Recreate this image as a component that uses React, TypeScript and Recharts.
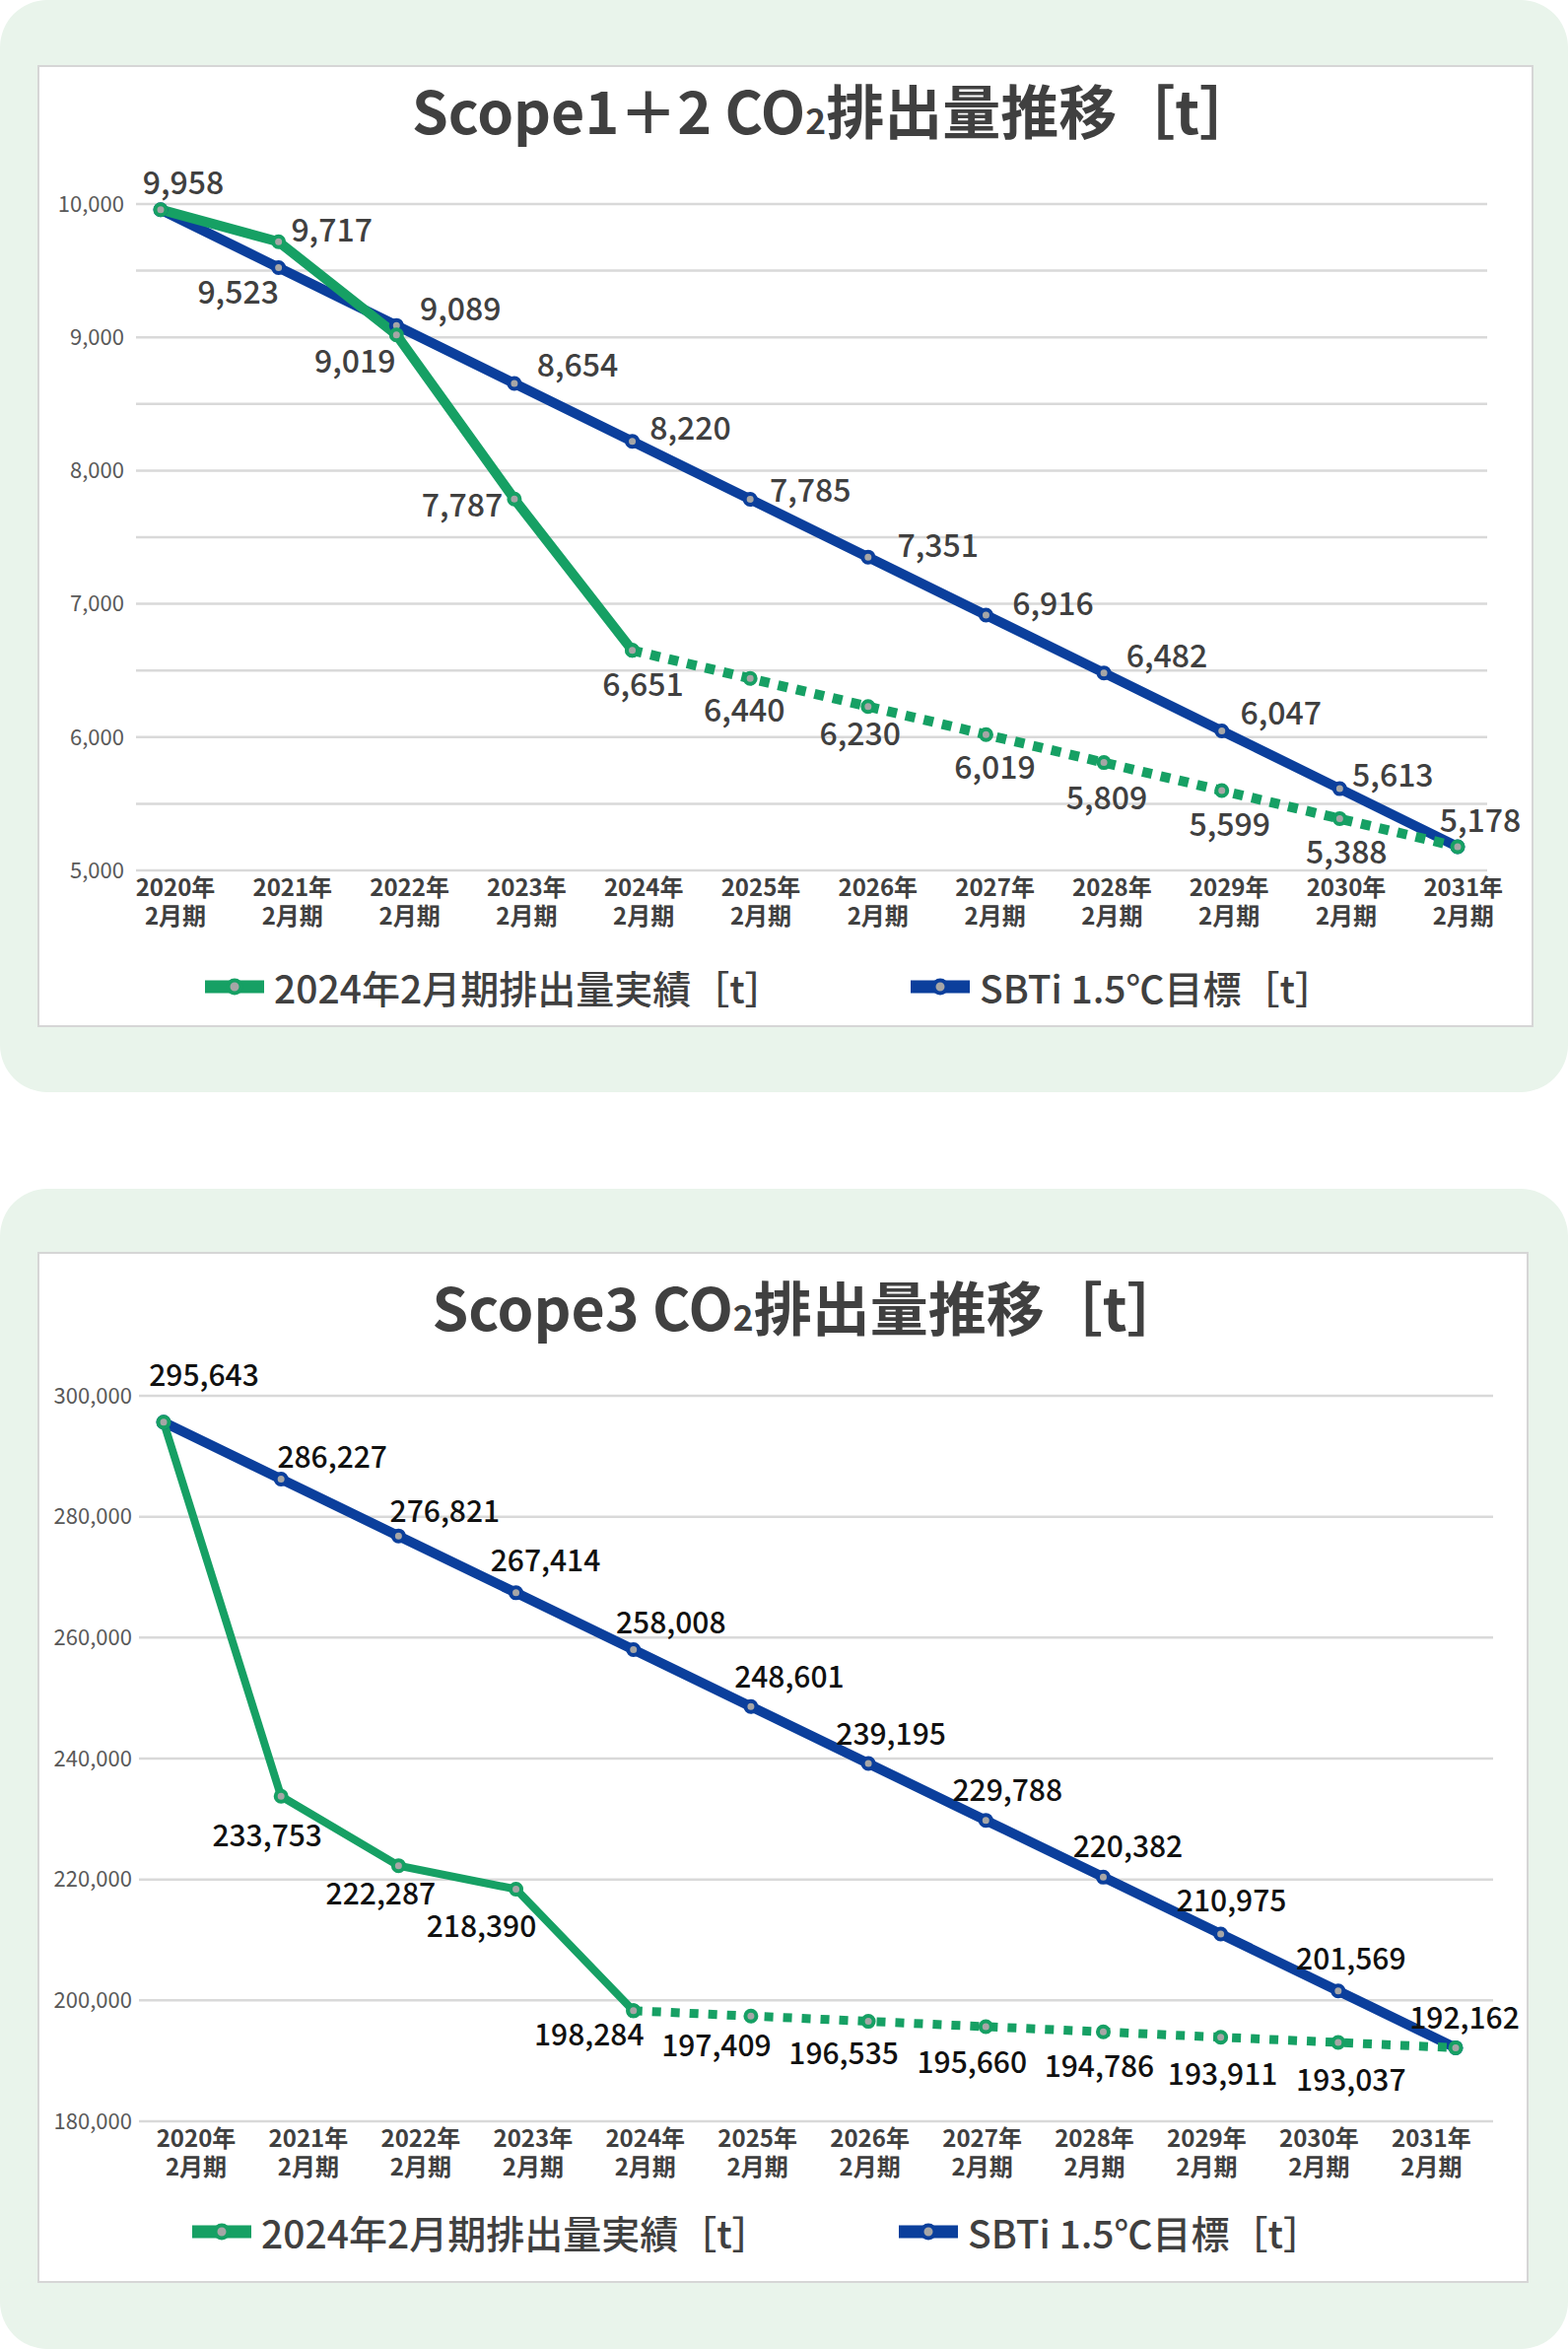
import React from 'react'
import { LineChart, Line, XAxis, YAxis, CartesianGrid, LabelList } from 'recharts'

const FONT = "'Noto Sans CJK JP', 'Noto Sans', sans-serif"
const GREEN = '#16a064'
const BLUE = '#0b3f9c'
const MARKER_FILL = '#a6a6a6'
const PANEL = '#e9f4eb'
const TEXT = '#404040'

// categories (fiscal years ending Feb)
const years = ['2020', '2021', '2022', '2023', '2024', '2025', '2026', '2027', '2028', '2029', '2030', '2031']

// Scope1+2 [t]
const scope12Actual = [9958, 9717, 9019, 7787, 6651, null, null, null, null, null, null, null]
const scope12Forecast = [null, null, null, null, 6651, 6440, 6230, 6019, 5809, 5599, 5388, 5178]
const scope12Target = [9958, 9523, 9089, 8654, 8220, 7785, 7351, 6916, 6482, 6047, 5613, 5178]
const scope12Ticks = [5000, 5500, 6000, 6500, 7000, 7500, 8000, 8500, 9000, 9500, 10000]

// Scope3 [t]
const scope3Actual = [295643, 233753, 222287, 218390, 198284, null, null, null, null, null, null, null]
const scope3Forecast = [null, null, null, null, 198284, 197409, 196535, 195660, 194786, 193911, 193037, 192162]
const scope3Target = [295643, 286227, 276821, 267414, 258008, 248601, 239195, 229788, 220382, 210975, 201569, 192162]
const scope3Ticks = [180000, 200000, 220000, 240000, 260000, 280000, 300000]

const legendActual = '2024年2月期排出量実績［t］'
const legendTarget = 'SBTi 1.5℃目標［t］'

// where each data label sits relative to its point (null = no label)
type Offset = [number, number] | null
const s12ActualLabels: Offset[] = [[23, -27], [54, -12], [-42, 27], [-53, 6], [11, 35], null, null, null, null, null, null, null]
const s12ForecastLabels: Offset[] = [null, null, null, null, null, [-6, 32], [-8, 28], [9, 33], [3, 36], [8, 34], [7, 34], [23, -26]]
const s12TargetLabels: Offset[] = [null, [-41, 25], [65, -17], [64, -18], [59, -13], [61, -9], [71, -12], [68, -11], [64, -17], [60, -18], [54, -14], null]

const s3ActualLabels: Offset[] = [[41, -48], [-14, 40], [-18, 29], [-35, 38], [-45, 24], null, null, null, null, null, null, null]
const s3ForecastLabels: Offset[] = [null, null, null, null, null, [-35, 30], [-25, 33], [-14, 36], [-4, 35], [2, 38], [13, 38], null]
const s3TargetLabels: Offset[] = [null, [52, -22], [47, -25], [30, -33], [38, -27], [39, -30], [23, -30], [22, -30], [25, -31], [11, -34], [13, -33], [9, -30]]

const scope12Data = years.map((year, i) => ({
  year,
  actual: scope12Actual[i],
  forecast: scope12Forecast[i],
  target: scope12Target[i],
}))

const scope3Data = years.map((year, i) => ({
  year,
  actual: scope3Actual[i],
  forecast: scope3Forecast[i],
  target: scope3Target[i],
}))

function pointLabel(offsets: Offset[], fontSize: number, color: string) {
  return (props: any) => {
    const { x, y, value, index } = props
    const off = offsets[index]
    if (!off || value == null || x == null || y == null) return null
    return (
      <text
        x={x + off[0]}
        y={y + off[1]}
        dy="0.36em"
        textAnchor="middle"
        fontSize={fontSize}
        fontWeight={500}
        fill={color}
        fontFamily={FONT}
      >
        {Number(value).toLocaleString('en-US')}
      </text>
    )
  }
}

function yearTick(firstX: number, shift: number, k: number) {
  return (props: any) => {
    const { x, y, payload } = props
    const cx = firstX + shift + (x - firstX) * k
    const common = { x: cx, textAnchor: 'middle' as const, fontSize: 24, fontWeight: 700, fill: TEXT, fontFamily: FONT }
    return (
      <g>
        <text {...common} y={y + 26}>{payload.value}年</text>
        <text {...common} y={y + 55}>2月期</text>
      </g>
    )
  }
}

function valueTick(formatter: (v: number) => string) {
  return (props: any) => {
    const { x, y, payload } = props
    const label = formatter(payload.value)
    if (!label) return <g />
    return (
      <text x={x} y={y} dy="0.355em" textAnchor="end" fontSize={22} fill="#595959" fontFamily={FONT}>
        {label}
      </text>
    )
  }
}

const LegendSymbol = ({ color }: { color: string }) => (
  <svg width={60} height={24} style={{ display: 'block' }}>
    <rect x={0} y={5.5} width={60} height={13} fill={color} />
    <circle cx={30} cy={12} r={6.5} fill={MARKER_FILL} stroke={color} strokeWidth={4} />
  </svg>
)

const LegendItem = ({ color, label, left, top }: { color: string; label: string; left: number; top: number }) => (
  <div
    style={{
      position: 'absolute',
      left,
      top: top - 25,
      height: 50,
      display: 'flex',
      alignItems: 'center',
      gap: 10,
      whiteSpace: 'nowrap',
    }}
  >
    <LegendSymbol color={color} />
    <span style={{ fontSize: 39, fontWeight: 500, color: TEXT, fontFamily: FONT }}>{label}</span>
  </div>
)

const Title = ({ children, top, width, shift }: { children: React.ReactNode; top: number; width: number; shift: number }) => (
  <div
    style={{
      position: 'absolute',
      left: shift,
      top: top - 40,
      width,
      height: 80,
      lineHeight: '80px',
      textAlign: 'center',
      fontSize: 59,
      fontWeight: 700,
      color: TEXT,
      fontFamily: FONT,
      whiteSpace: 'nowrap',
    }}
  >
    {children}
  </div>
)

const dotStyle = (color: string) => ({
  r: 5.5,
  fill: MARKER_FILL,
  stroke: color,
  strokeWidth: 4,
  strokeDasharray: 'none',
})

const panelStyle: React.CSSProperties = {
  position: 'absolute',
  left: 0,
  width: 1591,
  background: PANEL,
  borderRadius: 48,
}

const cardStyle: React.CSSProperties = {
  position: 'absolute',
  left: 38,
  background: '#ffffff',
  boxShadow: 'inset 0 0 0 2px #d6d6d6',
}

const fmtThousands = (v: number) => (v % 1000 === 0 ? v.toLocaleString('en-US') : '')
const fmtPlain = (v: number) => v.toLocaleString('en-US')

export default function App() {
  return (
    <div
      style={{
        position: 'absolute',
        left: 0,
        top: 0,
        width: 1591,
        height: 2383,
        background: '#ffffff',
        overflow: 'hidden',
        fontFamily: FONT,
      }}
    >
      <div style={{ ...panelStyle, top: 0, height: 1108 }} />
      <div style={{ ...panelStyle, top: 1206, height: 1177 }} />

      {/* Scope1+2 */}
      <div style={{ ...cardStyle, top: 66, width: 1518, height: 976 }}>
        <LineChart
          width={1518}
          height={976}
          data={scope12Data}
          margin={{ top: 141, right: 47, bottom: 89, left: 0 }}
        >
          <CartesianGrid vertical={false} stroke="#d9d9d9" strokeWidth={2.5} />
          <XAxis
            dataKey="year"
            interval={0}
            axisLine={false}
            tickLine={false}
            tickSize={0}
            tickMargin={0}
            height={70}
            padding={{ left: 25, right: 30 }}
            tick={yearTick(125, 15, 0.993)}
          />
          <YAxis
            width={100}
            domain={[5000, 10000]}
            ticks={scope12Ticks}
            interval={0}
            axisLine={false}
            tickLine={false}
            tickSize={0}
            tickMargin={12}
            tick={valueTick(fmtThousands)}
          />
          <Line
            dataKey="target"
            stroke={BLUE}
            strokeWidth={10}
            dot={dotStyle(BLUE)}
            activeDot={false}
            isAnimationActive={false}
          >
            <LabelList dataKey="target" content={pointLabel(s12TargetLabels, 32, TEXT)} />
          </Line>
          <Line
            dataKey="forecast"
            stroke={GREEN}
            strokeWidth={10}
            strokeDasharray="10 9"
            dot={dotStyle(GREEN)}
            activeDot={false}
            isAnimationActive={false}
          >
            <LabelList dataKey="forecast" content={pointLabel(s12ForecastLabels, 32, TEXT)} />
          </Line>
          <Line
            dataKey="actual"
            stroke={GREEN}
            strokeWidth={10}
            dot={dotStyle(GREEN)}
            activeDot={false}
            isAnimationActive={false}
          >
            <LabelList dataKey="actual" content={pointLabel(s12ActualLabels, 32, TEXT)} />
          </Line>
        </LineChart>
        <Title top={45} width={1518} shift={50}>
          Scope1＋2 CO<span style={{ fontSize: '0.6em' }}>2</span>排出量推移［t］
        </Title>
        <LegendItem color={GREEN} label={legendActual} left={170} top={935} />
        <LegendItem color={BLUE} label={legendTarget} left={886} top={935} />
      </div>

      {/* Scope3 */}
      <div style={{ ...cardStyle, top: 1270, width: 1513, height: 1046 }}>
        <LineChart
          width={1513}
          height={1046}
          data={scope3Data}
          margin={{ top: 146, right: 36, bottom: 94, left: 0 }}
        >
          <CartesianGrid vertical={false} stroke="#d9d9d9" strokeWidth={2.5} />
          <XAxis
            dataKey="year"
            interval={0}
            axisLine={false}
            tickLine={false}
            tickSize={0}
            tickMargin={0}
            height={70}
            padding={{ left: 25, right: 38 }}
            tick={yearTick(128, 33, 0.956)}
          />
          <YAxis
            width={103}
            domain={[180000, 300000]}
            ticks={scope3Ticks}
            interval={0}
            axisLine={false}
            tickLine={false}
            tickSize={0}
            tickMargin={7}
            tick={valueTick(fmtPlain)}
          />
          <Line
            dataKey="target"
            stroke={BLUE}
            strokeWidth={10}
            dot={dotStyle(BLUE)}
            activeDot={false}
            isAnimationActive={false}
          >
            <LabelList dataKey="target" content={pointLabel(s3TargetLabels, 30, '#111111')} />
          </Line>
          <Line
            dataKey="forecast"
            stroke={GREEN}
            strokeWidth={9}
            strokeDasharray="9 10"
            dot={dotStyle(GREEN)}
            activeDot={false}
            isAnimationActive={false}
          >
            <LabelList dataKey="forecast" content={pointLabel(s3ForecastLabels, 30, '#111111')} />
          </Line>
          <Line
            dataKey="actual"
            stroke={GREEN}
            strokeWidth={8}
            dot={dotStyle(GREEN)}
            activeDot={false}
            isAnimationActive={false}
          >
            <LabelList dataKey="actual" content={pointLabel(s3ActualLabels, 30, '#111111')} />
          </Line>
        </LineChart>
        <Title top={55} width={1513} shift={26}>
          Scope3 CO<span style={{ fontSize: '0.6em' }}>2</span>排出量推移［t］
        </Title>
        <LegendItem color={GREEN} label={legendActual} left={157} top={994} />
        <LegendItem color={BLUE} label={legendTarget} left={874} top={994} />
      </div>
    </div>
  )
}
